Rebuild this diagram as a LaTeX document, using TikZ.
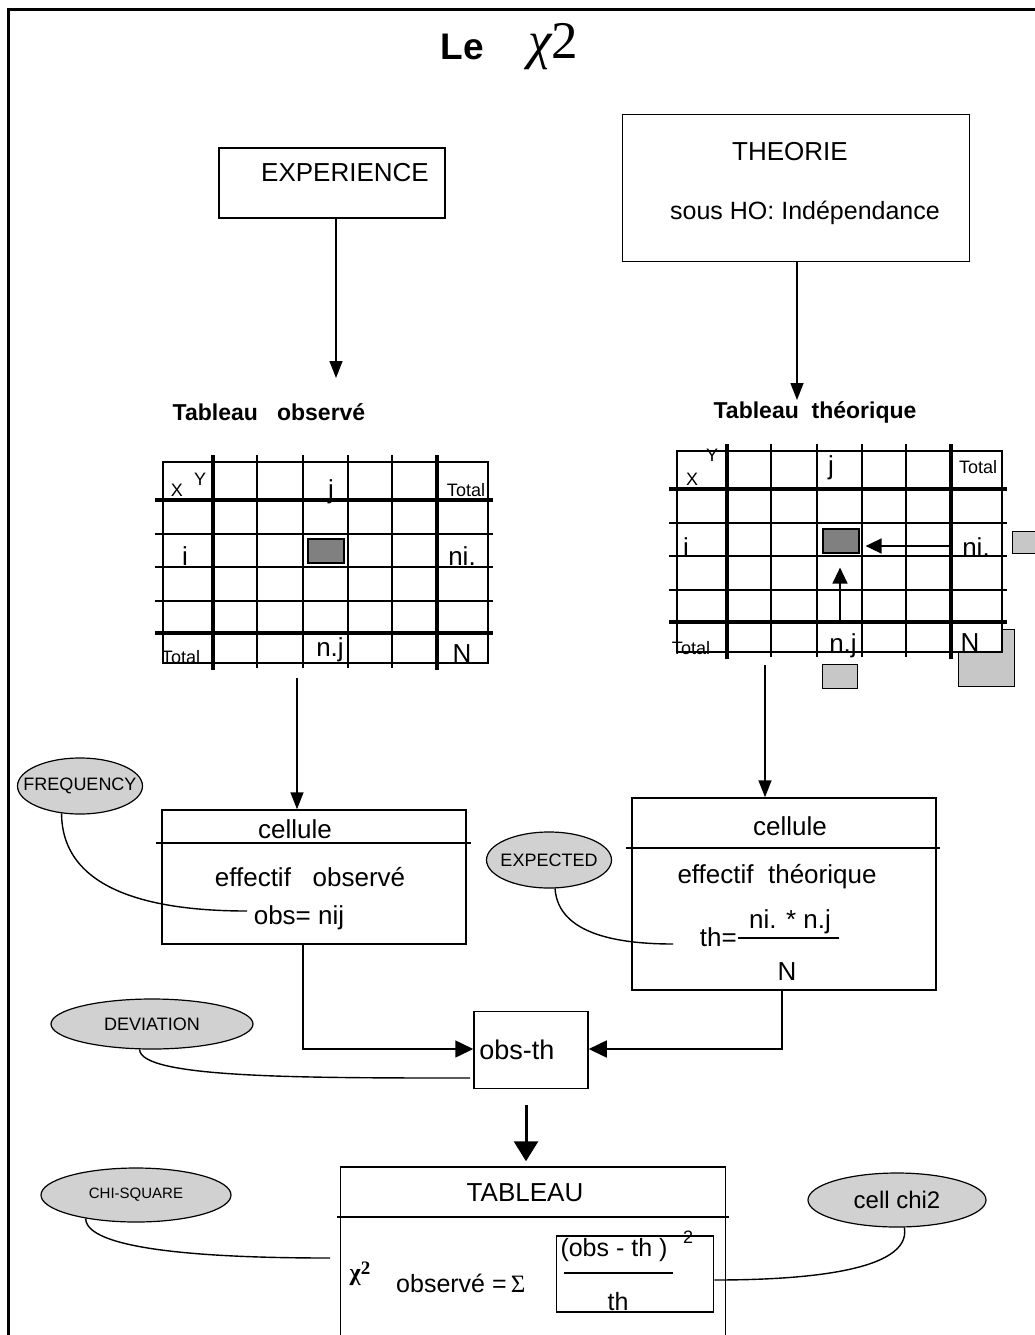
\documentclass[tikz,border=0pt]{standalone}
\usepackage{fontspec}
\setmainfont{Liberation Sans}
\newfontfamily\grfont{Liberation Serif}
\usetikzlibrary{arrows.meta,shapes.geometric,positioning}

\newcommand\fbig{\fontsize{25}{28}\selectfont}
\newcommand\fcell{\fontsize{26}{28}\selectfont}
\newcommand\fsmall{\fontsize{18}{20}\selectfont}

\begin{document}
\begin{tikzpicture}[x=1pt,y=-1pt,
  box/.style={draw,line width=1.5pt,inner sep=0pt},
  oval/.style={ellipse,draw,line width=1.2pt,fill=black!18,inner sep=0pt},
  ovaltxt/.style={font=\fsmall,inner sep=0pt},
  hatchbox/.style={draw,line width=1pt,fill=black!22},
  greycell/.style={draw,line width=1.2pt,fill=black!50,inner sep=0pt,minimum width=36pt,minimum height=24pt},
  lbl/.style={font=\fbig,inner sep=0pt},
  celltxt/.style={font=\fcell,inner sep=0pt},
  small/.style={font=\fsmall,inner sep=0pt},
  arr/.style={line width=1.5pt,-{Triangle[length=17pt,width=13pt]}},
  tarr/.style={line width=1.5pt,-{Triangle[length=16pt,width=15pt]}},
  bigarr/.style={line width=1.5pt,-{Triangle[length=18pt,width=17pt]}},
  fatarr/.style={line width=3pt,-{Triangle[length=20pt,width=24pt]}},
  link/.style={line width=1.4pt},
  thickline/.style={line width=4pt},
  thinline/.style={line width=1.3pt}]

\useasboundingbox (0,0) rectangle (1035,1335);
% cadre
\draw[line width=3pt] (8,1335) -- (8,10) -- (1035,10);

% titre
\node[font=\bfseries\fontsize{37}{40}\selectfont,inner sep=0pt] (le) at (462,47) {Le};
\node[font=\grfont\itshape\fontsize{53}{56}\selectfont,inner sep=0pt] (chi) at (553,47) {χ\upshape 2};

% experience / theorie
\node[box,minimum width=226pt,minimum height=70pt] (exp) at (332,183) {};
\node[celltxt] (exptxt) at (345,173) {EXPERIENCE};
\node[box,minimum width=347pt,minimum height=147pt] (theo) at (796,188) {};
\node[celltxt] (theotxt) at (790,152) {THEORIE};
\node[lbl] (hotxt) at (805,213) {sous HO: Indépendance};

\coordinate (obsend) at (336,378);
\coordinate (theoend) at (797,400);
\draw[arr] (exp.south -| obsend) -- (obsend);
\draw[arr] (theo.south -| theoend) -- (theoend);

\node[font=\bfseries\fontsize{23}{26}\selectfont,inner sep=0pt] (tobs) at (269,412) {Tableau\ \ \ observé};
\node[font=\bfseries\fontsize{23}{26}\selectfont,inner sep=0pt] (tth) at (815,412) {Tableau\ \ théorique};

% cases hachurees du tableau theorique
\node[hatchbox,minimum width=27pt,minimum height=22pt] (hni) at (1026,542) {};
\node[hatchbox,minimum width=35pt,minimum height=24pt] (hnj) at (840,676) {};
\node[hatchbox,minimum width=56pt,minimum height=57pt] (hN) at (986,658) {};

% les deux tableaux
\foreach \dx/\dy in {0/0,514/-11}{
  \begin{scope}[shift={(\dx,\dy)}]
    \draw[thinline,fill=white] (163,462) rectangle (488,663);
    \foreach \xx in {257,303,348,392} \draw[thinline] (\xx,455) -- (\xx,668);
    \foreach \yy in {534,567,601} \draw[thinline] (155,\yy) -- (493,\yy);
    \foreach \xx in {213,437} \draw[thickline] (\xx,455) -- (\xx,670);
    \foreach \yy in {500,633} \draw[thickline] (155,\yy) -- (493,\yy);
  \end{scope}
}
\node[greycell] (gobs) at (326,551) {};
\node[greycell] (gth) at (841,541) {};

% etiquettes tableau observe
\node[small] (xobs) at (177,490) {X};
\node[small] (yobs) at (200,479) {Y};
\node[celltxt] (jobs) at (331,492) {j};
\node[small] (totobs) at (466,490) {Total};
\node[celltxt] (iobs) at (185,556) {i};
\node[celltxt] (niobs) at (462,556) {ni.};
\node[small] (totobs2) at (181,657) {Total};
\node[celltxt] (njobs) at (330,650) {n.j};
\node[celltxt] (Nobs) at (462,654) {N};

% etiquettes tableau theorique
\node[small] (yth) at (712,455) {Y};
\node[small] (xth) at (692,479) {X};
\node[celltxt] (jth) at (831,468) {j};
\node[small] (totth) at (978,467) {Total};
\node[celltxt] (ith) at (686,547) {i};
\node[celltxt] (nith) at (976,547) {ni.};
\node[small] (totth2) at (691,648) {Total};
\node[celltxt] (njth) at (843,646) {n.j};
\node[celltxt] (Nth) at (970,643) {N};

\coordinate (nistart) at (949,546);
\coordinate (njstart) at (840,623);
\draw[tarr,shorten >=6pt] (nistart) -- (gth.east |- nistart);
\draw[tarr,shorten >=14pt] (njstart) -- (gth.south -| njstart);

% cellules
\node[box,minimum width=304pt,minimum height=134pt] (cobs) at (314,877) {};
\draw[line width=1.5pt] (156,843) -- (471,843);
\node[celltxt] (cobs1) at (295,829) {cellule};
\node[celltxt] (cobs2) at (310,877) {effectif\ \ \ observé};
\node[celltxt] (cobs3) at (299,918) {obs= nij};

\node[box,minimum width=304pt,minimum height=192pt] (cth) at (784,894) {};
\draw[line width=1.5pt] (626,848) -- (940,848);
\node[celltxt] (cth1) at (790,826) {cellule};
\node[celltxt] (cth2) at (777,877) {effectif\ \ théorique};
\node[celltxt,anchor=east] (cth3) at (737,937) {th=};
\node[celltxt] (cth4) at (790,922) {ni. * n.j};
\draw[line width=1.5pt] (738,938) -- (839,938);
\node[celltxt] (cth5) at (787,972) {N};

\coordinate (obsout) at (297,678);
\coordinate (thout) at (765,665);
\draw[arr] (obsout) -- (cobs.north -| obsout);
\draw[arr] (thout) -- (cth.north -| thout);

% ecart
\node[box,minimum width=114pt,minimum height=77pt] (oth) at (531,1050) {};
\node[celltxt,font=\fontsize{27}{29}\selectfont,right=6pt of oth.west] (othtxt) {obs-th};
\coordinate (lft) at (303,1049);
\coordinate (rgt) at (782,1049);
\draw[bigarr] (cobs.south -| lft) -- (lft) -- (oth.west |- lft);
\draw[bigarr] (cth.south -| rgt) -- (rgt) -- (oth.east |- rgt);

% tableau final
\node[box,minimum width=385pt,minimum height=200pt] (tab) at (533,1267) {};
\draw[line width=1.5pt] (337,1217) -- (729,1217);
\node[celltxt] (tabtxt) at (525,1193) {TABLEAU};
\draw[fatarr,shorten <=16pt,shorten >=5pt] (oth.south -| 526,0) -- (tab.north -| 526,0);

\node[font=\grfont\bfseries\fontsize{24}{26}\selectfont,inner sep=0pt] (chi2) at (360,1274) {χ\raisebox{6pt}{\fontsize{19}{20}\selectfont 2}};
\node[lbl,anchor=west] (obsv) at (396,1283) {observé =\,{\grfont Σ}};
\node[box,minimum width=157pt,minimum height=76pt] (cellbox) at (635,1274) {};
\node[lbl] (numtxt) at (614,1250) {(obs - th )};
\node[small] (sq) at (688,1237) {2};
\draw[line width=1.5pt] (564,1273) -- (673,1273);
\node[lbl] (dentxt) at (618,1302) {th};

% ellipses
\node[oval,minimum width=125pt,minimum height=56pt,label={[ovaltxt]center:FREQUENCY}] (freq) at (80,786) {};
\node[oval,minimum width=125pt,minimum height=56pt,label={[ovaltxt]center:EXPECTED}] (expd) at (549,860) {};
\node[oval,minimum width=202pt,minimum height=50pt,label={[ovaltxt]center:DEVIATION}] (dev) at (152,1024) {};
\node[oval,minimum width=190pt,minimum height=54pt,label={[ovaltxt,font=\fontsize{15}{16}\selectfont]center:CHI-SQUARE}] (chisq) at (136,1195) {};
\node[oval,minimum width=178pt,minimum height=54pt,label={[lbl,font=\fontsize{24}{26}\selectfont]center:cell chi2}] (cchi) at (897,1200) {};

\coordinate (freqend) at (247,911);
\coordinate (expdend) at (673,944);
\coordinate (devend) at (470,1078);
\coordinate (chisqend) at (330,1258);
\draw[link] (freq.236) .. controls (62,890) and (150,911) .. (freqend);
\draw[link] (expd.282) .. controls (558,935) and (620,944) .. (expdend);
\draw[link] (dev.244) .. controls (140,1078) and (300,1078) .. (devend);
\draw[link] (chisq.205) .. controls (86,1255) and (250,1258) .. (chisqend);
\draw[link] (cchi.285) .. controls (912,1272) and (800,1280) .. ([yshift=-6pt]cellbox.east);
\end{tikzpicture}
\end{document}
